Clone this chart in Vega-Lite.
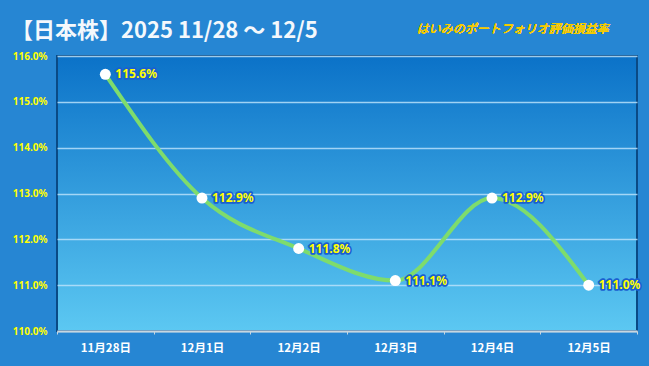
{
  "$schema": "https://vega.github.io/schema/vega-lite/v6.json",
  "autosize": {"type": "none"},
  "width": 580,
  "height": 275,
  "padding": {"left": 57, "top": 56, "right": 12, "bottom": 35},
  "background": "#2686d3",
  "title": {
    "text": "【日本株】2025 11/28 〜 12/5",
    "anchor": "start",
    "frame": "group",
    "dx": -46,
    "offset": 0,
    "dy": 20,
    "font": "Noto Sans CJK JP",
    "fontSize": 22,
    "fontWeight": "bold",
    "color": "#f4f8fc"
  },
  "config": {
    "view": {
      "fill": {
        "gradient": "linear",
        "x1": 0, "y1": 0, "x2": 0, "y2": 1,
        "stops": [
          {"offset": 0, "color": "#0b72c8"},
          {"offset": 1, "color": "#5cc8f2"}
        ]
      },
      "stroke": "#0a4a85",
      "strokeWidth": 2
    }
  },
  "data": {
    "values": [
      {"date": "11月28日", "rate": 115.6, "label": "115.6%"},
      {"date": "12月1日", "rate": 112.9, "label": "112.9%"},
      {"date": "12月2日", "rate": 111.8, "label": "111.8%"},
      {"date": "12月3日", "rate": 111.1, "label": "111.1%"},
      {"date": "12月4日", "rate": 112.9, "label": "112.9%"},
      {"date": "12月5日", "rate": 111.0, "label": "111.0%"}
    ]
  },
  "encoding": {
    "x": {
      "field": "date",
      "type": "nominal",
      "sort": null,
      "scale": {"type": "band", "paddingInner": 0, "paddingOuter": 0},
      "axis": {
        "title": null,
        "labelAngle": 0,
        "labelColor": "#ffffff",
        "labelFont": "Noto Sans CJK JP",
        "labelFontSize": 11.5,
        "labelFontWeight": "bold",
        "labelPadding": 8,
        "domainColor": "#c8d6e0",
        "domainWidth": 2,
        "tickColor": "#c8d6e0",
        "tickSize": 3,
        "tickBand": "extent",
        "grid": false
      }
    },
    "y": {
      "field": "rate",
      "type": "quantitative",
      "scale": {"domain": [110, 116], "zero": false, "nice": false},
      "axis": {
        "title": null,
        "values": [110, 111, 112, 113, 114, 115, 116],
        "labelExpr": "format(datum.value, '.1f') + '%'",
        "labelColor": "#ffff00",
        "labelFont": "Noto Sans",
        "labelFontSize": 10,
        "labelFontWeight": "bold",
        "labelPadding": 10,
        "domain": false,
        "ticks": false,
        "grid": true,
        "gridColor": "#b8e0fa",
        "gridWidth": 1.5,
        "gridOpacity": 0.85
      }
    }
  },
  "layer": [
    {
      "mark": {"type": "line", "interpolate": "monotone", "stroke": "#7edc6c", "strokeWidth": 4}
    },
    {
      "mark": {"type": "circle", "size": 120, "fill": "#ffffff", "opacity": 1}
    },
    {
      "mark": {"type": "text", "align": "left", "baseline": "middle", "dx": 10, "font": "Noto Sans", "fontSize": 12, "fontWeight": "bold", "stroke": "#1a5fd0", "strokeWidth": 3.5, "strokeJoin": "round", "fill": "#1a5fd0"},
      "encoding": {"text": {"field": "label", "type": "nominal"}}
    },
    {
      "mark": {"type": "text", "align": "left", "baseline": "middle", "dx": 10, "font": "Noto Sans", "fontSize": 12, "fontWeight": "bold", "fill": "#ffff00"},
      "encoding": {"text": {"field": "label", "type": "nominal"}}
    },
    {
      "mark": {"type": "text", "align": "right", "baseline": "middle", "dx": 20, "font": "Noto Sans CJK JP", "fontSize": 12, "fontStyle": "italic", "fill": "#f5cc00"},
      "encoding": {
        "x": {"datum": "12月5日"},
        "y": {"datum": 116.6},
        "text": {"value": "はいみのポートフォリオ評価損益率"}
      }
    }
  ]
}
